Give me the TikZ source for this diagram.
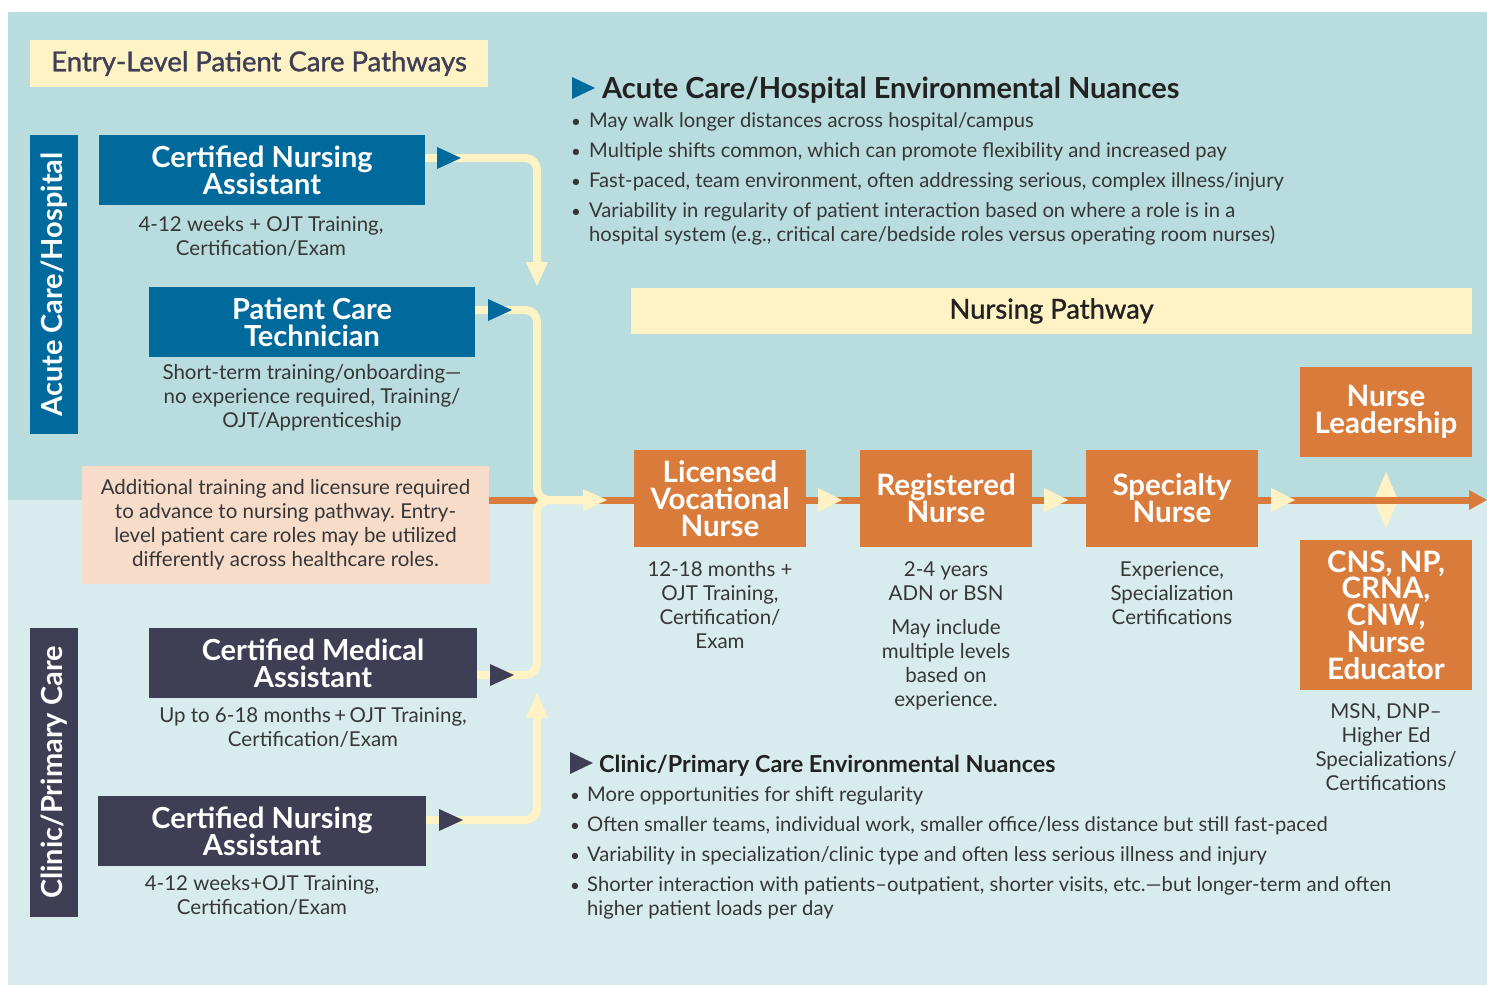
\documentclass[tikz,border=0pt]{standalone}
\usepackage{fontspec}
\setmainfont{Lato}
\newfontfamily\medfont[FakeBold=1.2]{Lato}
\usetikzlibrary{calc}
\definecolor{topbg}{HTML}{B9DCDE}
\definecolor{botbg}{HTML}{D8ECED}
\definecolor{cblue}{HTML}{006A9C}
\definecolor{cnavy}{HTML}{3E3F55}
\definecolor{corange}{HTML}{D97B3B}
\definecolor{ccream}{HTML}{FFF3C5}
\definecolor{cpink}{HTML}{F6DCC9}
\definecolor{ctext}{HTML}{363636}
\definecolor{chead}{HTML}{222222}
\tikzset{
  rolebox/.style={text=white, font=\bfseries\fontsize{29}{27}\selectfont, align=center, inner sep=0pt},
  bluebox/.style={rolebox, fill=cblue, minimum width=326, minimum height=70},
  navybox/.style={rolebox, fill=cnavy, minimum width=328, minimum height=70},
  orbox/.style={rolebox, fill=corange, minimum width=172, font=\bfseries\fontsize{29.5}{26.7}\selectfont},
  subtxt/.style={text=ctext, font=\fontsize{20.5}{24}\selectfont, align=center, inner sep=0pt},
  bodytxt/.style={text=ctext, font=\fontsize{20.2}{24}\selectfont, inner sep=0pt, anchor=base west},
  bdot/.style={text=ctext, font=\fontsize{17}{24}\selectfont, inner sep=0pt, anchor=base},
  creamline/.style={draw=ccream, line width=8, rounded corners=12},
  orline/.style={draw=corange, line width=7},
  sidebar/.style={rotate=90, minimum height=48, inner sep=0pt, text=white, font=\bfseries\fontsize{29}{30}\selectfont},
}
\begin{document}
\begin{tikzpicture}[x=1pt,y=-1pt]
\useasboundingbox (0,0) rectangle (1487,985);
\fill[white] (0,0) rectangle (1487,985);
\fill[topbg] (8,12) rectangle (1487,500);
\fill[botbg] (8,500) rectangle (1487,985);

% title
\node[fill=ccream, minimum width=458, minimum height=47, inner sep=0pt, text=cnavy,
      font=\medfont\fontsize{27.5}{30}\selectfont] (title) at (259,63.5) {Entry-Level Patient Care Pathways};

% side bars
\node[sidebar, fill=cblue, minimum width=299] (acute) at (54,284.5) {Acute Care/Hospital};
\node[sidebar, fill=cnavy, minimum width=289] (clinic) at (54,772.5) {Clinic/Primary Care};

% coordinates for the connectors
\coordinate (merge) at (537,500);
\coordinate (oStart) at (489,500);
\coordinate (oEnd) at (1470,500);

% diamond behind the orange line
\fill[ccream] (1386,472) -- (1398,500) -- (1386,528) -- (1374,500) -- cycle;
% orange line
\draw[orline] (oStart) -- (oEnd);
\fill[corange] (1469,490) -- (1487,500) -- (1469,510) -- cycle;

% entry boxes
\node[bluebox] (cnaA) at (262,170) {Certified Nursing\\Assistant};
\node[bluebox] (pct) at (312,322) {Patient Care\\Technician};
\node[navybox] (cma) at (313,663) {Certified Medical\\Assistant};
\node[navybox] (cnaB) at (262,831) {Certified Nursing\\Assistant};
\node[fill=cpink, minimum width=407, minimum height=118, inner sep=0pt] (pink) at (285.5,525) {};
\node[subtxt] (pinktxt) at (pink.center) {Additional training and licensure required\\to advance to nursing pathway.\ Entry-\\level patient care roles may be utilized\\differently across healthcare roles.};

% subtexts
\node[subtxt] (cnaAsub) at (261,236) {4-12 weeks + OJT Training,\\Certification/Exam};
\node[subtxt] (pctsub) at (312,398) {Short-term training/onboarding---\\no experience required, Training/\\OJT/Apprenticeship};
\node[subtxt] (cmasub) at (313,727) {Up to 6-18 months\,+\,OJT Training,\\Certification/Exam};
\node[subtxt] (cnaBsub) at (262,895) {4-12 weeks+OJT Training,\\Certification/Exam};

% cream connectors
\draw[creamline] (cnaA.east |- 0,158) -- (537,158) -- (537,266);
\fill[ccream] (526,262) -- (548,262) -- (537,286) -- cycle;
\draw[creamline] (pct.east |- 0,310) -- (537,310) -- (merge) -- (586,500);
\draw[creamline] (cma.east |- 0,675) -- (537,675) -- (merge) -- (586,500);
\fill[ccream] (583,489) -- (607,500) -- (583,511) -- cycle;
\draw[creamline] (cnaB.east |- 0,820) -- (537,820) -- (537,714);
\fill[ccream] (526,718) -- (548,718) -- (537,693) -- cycle;

% triangles on connectors
\fill[cblue] (437,147) -- (461,158) -- (437,169) -- cycle;
\fill[cblue] (488,299) -- (512,310) -- (488,321) -- cycle;
\fill[cnavy] (490,664) -- (514,675) -- (490,686) -- cycle;
\fill[cnavy] (439,809) -- (463,820) -- (439,831) -- cycle;

% nursing pathway
\node[fill=ccream, minimum width=841, minimum height=46, inner sep=0pt, text=chead,
      font=\medfont\fontsize{27.4}{30}\selectfont] (np) at (1051.5,311) {Nursing Pathway};

\node[orbox, minimum height=97] (lvn) at (720,498.5) {Licensed\\Vocational\\Nurse};
\node[orbox, minimum height=97] (rn) at (946,498.5) {Registered\\Nurse};
\node[orbox, minimum height=97] (spec) at (1172,498.5) {Specialty\\Nurse};
\node[orbox, minimum height=90] (lead) at (1386,412) {Nurse\\Leadership};
\node[orbox, minimum height=150] (cns) at (1386,615) {CNS, NP,\\CRNA,\\CNW,\\Nurse\\Educator};

% cream heads on orange line
\fill[ccream] (818,488) -- (842,500) -- (818,512) -- cycle;
\fill[ccream] (1044,488) -- (1068,500) -- (1044,512) -- cycle;
\fill[ccream] (1271,488) -- (1295,500) -- (1271,512) -- cycle;

\node[subtxt] (lvnsub) at (720,605) {12-18 months +\\OJT Training,\\Certification/\\Exam};
\node[subtxt] (rnsub1) at (946,581) {2-4 years\\ADN or BSN};
\node[subtxt] (rnsub2) at (946,665) {May include\\multiple levels\\based on\\experience.};
\node[subtxt] (specsub) at (1172,593) {Experience,\\Specialization\\Certifications};
\node[subtxt] (cnssub) at (1386,747) {MSN, DNP--\\Higher Ed\\Specializations/\\Certifications};

% acute nuances
\fill[cblue] (572,77) -- (595,88) -- (572,99) -- cycle;
\node[anchor=base west, inner sep=0pt, text=chead, font=\bfseries\fontsize{29}{30}\selectfont] (acuteHead) at (602,98) {Acute Care/Hospital Environmental Nuances};
\node[bdot] (ab1) at (576,127) {•};
\node[bodytxt] (at1) at (589,127) {May walk longer distances across hospital/campus};
\node[bdot] (ab2) at (576,157) {•};
\node[bodytxt] (at2) at (589,157) {Multiple shifts common, which can promote flexibility and increased pay};
\node[bdot] (ab3) at (576,187) {•};
\node[bodytxt] (at3) at (589,187) {Fast-paced, team environment, often addressing serious, complex illness/injury};
\node[bdot] (ab4) at (576,217) {•};
\node[bodytxt] (at4) at (589,217) {Variability in regularity of patient interaction based on where a role is in a};
\node[bodytxt] (at5) at (589,241) {hospital system (e.g., critical care/bedside roles versus operating room nurses)};

% clinic nuances
\fill[cnavy] (570,752) -- (593,763) -- (570,774) -- cycle;
\node[anchor=base west, inner sep=0pt, text=chead, font=\bfseries\fontsize{23.4}{26}\selectfont] (clinicHead) at (599,772) {Clinic/Primary Care Environmental Nuances};
\node[bdot] (cb1) at (575,801) {•};
\node[bodytxt] (ct1) at (587,801) {More opportunities for shift regularity};
\node[bdot] (cb2) at (575,831) {•};
\node[bodytxt] (ct2) at (587,831) {Often smaller teams, individual work, smaller office/less distance but still fast-paced};
\node[bdot] (cb3) at (575,861) {•};
\node[bodytxt] (ct3) at (587,861) {Variability in specialization/clinic type and often less serious illness and injury};
\node[bdot] (cb4) at (575,891) {•};
\node[bodytxt] (ct4) at (587,891) {Shorter interaction with patients--outpatient, shorter visits, etc.---but longer-term and often};
\node[bodytxt] (ct5) at (587,915) {higher patient loads per day};
\end{tikzpicture}
\end{document}
